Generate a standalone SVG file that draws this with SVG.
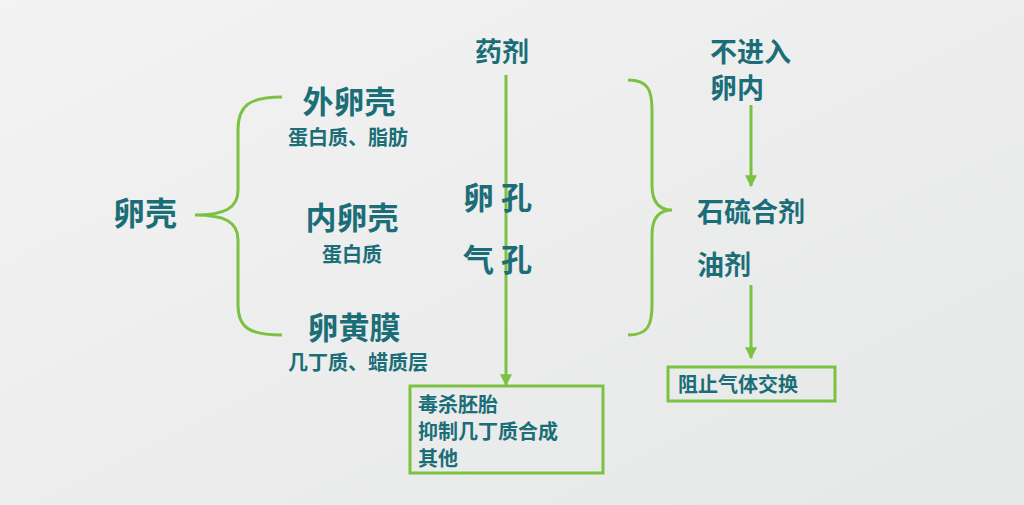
<svg xmlns="http://www.w3.org/2000/svg" width="1024" height="505" viewBox="0 0 1024 505">
<style>
text{font-family:"Noto Sans CJK SC","Noto Sans",sans-serif;font-weight:bold;fill:#1b6e78}
.l{stroke:#7cc242;stroke-width:3;fill:none}
.b{font-size:31px}.s{font-size:20px}.m{font-size:20px}.t{font-size:27px}
</style>
<defs>
<marker id="h" viewBox="0 0 10 10" refX="9" refY="5" markerWidth="12" markerHeight="12" orient="auto" markerUnits="userSpaceOnUse"><path d="M0,0L10,5L0,10Z" fill="#7cc242"/></marker>
<linearGradient id="bg" x1="0" y1="0" x2="1" y2="1"><stop offset="0" stop-color="#f2f3f2"/><stop offset="1" stop-color="#e6e8e7"/></linearGradient></defs>
<rect width="1024" height="505" fill="url(#bg)"/>
<g id="connectors">
<path class="l" d="M282,97 C250,97 238,105 238,130 L238,190 C238,208 225,215 195,215 C225,215 238,222 238,240 L238,305 C238,328 250,335 282,335"/>
<path class="l" d="M628,80 C648,80 652,90 652,110 L652,185 C652,203 660,210 672,210 C660,210 652,217 652,235 L652,305 C652,325 648,335 628,335"/>
<line class="l" x1="506" y1="75" x2="506" y2="385" marker-end="url(#h)"/>
<line class="l" x1="751" y1="105" x2="751" y2="186" marker-end="url(#h)"/>
<line class="l" x1="751" y1="285" x2="751" y2="358" marker-end="url(#h)"/>
</g>
<g id="n-shell"><text x="113" y="225" style="font-size:32px">卵壳</text></g>
<g id="n-outer"><text x="349" y="113" class="b" text-anchor="middle">外卵壳</text><text x="348" y="145" class="s" text-anchor="middle">蛋白质、脂肪</text></g>
<g id="n-inner"><text x="352" y="229" class="b" text-anchor="middle">内卵壳</text><text x="352" y="262" class="s" text-anchor="middle">蛋白质</text></g>
<g id="n-yolk"><text x="354" y="339" class="b" text-anchor="middle">卵黄膜</text><text x="358" y="370" class="s" text-anchor="middle">几丁质、蜡质层</text></g>
<g id="n-drug"><text x="502" y="62" class="t" text-anchor="middle">药剂</text></g>
<g id="n-pores"><text x="463" y="209" class="b">卵 孔</text><text x="463" y="271" class="b">气 孔</text></g>
<g id="n-box1"><rect x="410" y="386" width="193" height="87" class="l"/><text x="418" y="412" class="m">毒杀胚胎</text><text x="418" y="439" class="m">抑制几丁质合成</text><text x="418" y="466" class="m">其他</text></g>
<g id="n-notin"><text x="710" y="62" class="t">不进入</text><text x="710" y="98" class="t">卵内</text></g>
<g id="n-agents"><text x="697" y="222" class="t">石硫合剂</text><text x="697" y="275" class="t">油剂</text></g>
<g id="n-box2"><rect x="668" y="367" width="167" height="34" class="l"/><text x="678" y="392" class="m">阻止气体交换</text></g>
</svg>
